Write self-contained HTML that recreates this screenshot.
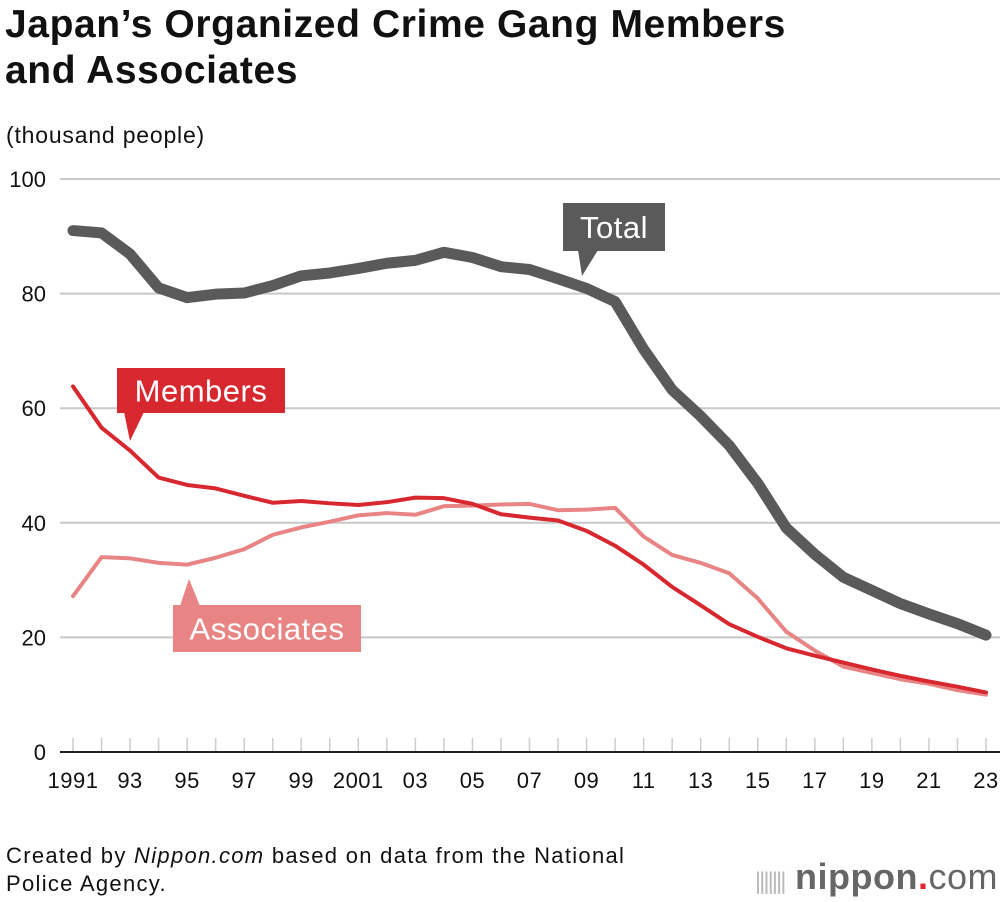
<!DOCTYPE html>
<html><head><meta charset="utf-8"><style>
body{margin:0;background:#fff;font-family:"Liberation Sans",Arial,sans-serif;}
#wrap{position:relative;width:1000px;height:902px;overflow:hidden;}
h1{position:absolute;left:5px;top:2px;margin:0;font-size:39px;line-height:46px;font-weight:bold;color:#111;letter-spacing:0.6px}
.t{position:absolute;color:#111;white-space:nowrap}
</style></head><body>
<div id="wrap">
<h1>Japan’s Organized Crime Gang Members<br>and Associates</h1>
<div class="t" style="left:6px;top:122px;font-size:23px;letter-spacing:0.8px">(thousand people)</div>
<svg id="chart" width="1000" height="902" style="position:absolute;left:0;top:0"></svg>
<div class="t" style="left:6px;top:842px;font-size:22px;line-height:28px;letter-spacing:1.3px">Created by <i>Nippon.com</i> based on data from the National<br>Police Agency.</div>
<div class="t" style="right:2px;top:856px;font-size:36px;line-height:42px;color:#666;font-weight:bold;letter-spacing:0.5px"><span style="font-size:24px;color:#bbb;font-weight:normal;letter-spacing:-2px">|||||||</span> nippon<span style="color:#e0242b">.</span><span style="font-weight:normal">com</span></div>
</div>
<script>
const years=[1991,1992,1993,1994,1995,1996,1997,1998,1999,2000,2001,2002,2003,2004,2005,2006,2007,2008,2009,2010,2011,2012,2013,2014,2015,2016,2017,2018,2019,2020,2021,2022,2023];
const total=[91,90.6,86.9,81,79.3,79.9,80.1,81.4,83.1,83.6,84.4,85.3,85.8,87.2,86.3,84.7,84.2,82.6,80.9,78.6,70.3,63.2,58.6,53.5,46.9,39.1,34.5,30.5,28.2,25.9,24.1,22.4,20.4];
const members=[63.8,56.6,52.6,47.9,46.6,46.0,44.7,43.5,43.8,43.4,43.1,43.6,44.4,44.3,43.3,41.5,40.9,40.4,38.6,36.0,32.7,28.8,25.6,22.3,20.1,18.1,16.8,15.6,14.4,13.3,12.3,11.4,10.4];
const associates=[27.2,34.0,33.8,33.0,32.7,33.9,35.4,37.9,39.2,40.2,41.3,41.7,41.4,42.9,43.0,43.2,43.3,42.2,42.3,42.6,37.6,34.4,33.0,31.2,26.8,21.0,17.7,14.9,13.8,12.7,11.9,10.8,10.0];
const yTicks=[0,20,40,60,80,100];
const xLabels=["1991","93","95","97","99","2001","03","05","07","09","11","13","15","17","19","21","23"];

const NS="http://www.w3.org/2000/svg";
const svg=document.getElementById('chart');
const x=i=>73+i*(986-73)/(years.length-1);
const y=v=>752-v*(752-179)/100;
function el(tag,attrs,parent){const e=document.createElementNS(NS,tag);for(const k in attrs)e.setAttribute(k,attrs[k]);(parent||svg).appendChild(e);return e;}

yTicks.forEach(v=>{
  if(v>0){const g=el('line',{x1:60,x2:1000,y1:y(v),y2:y(v),stroke:'#c8c8c8','stroke-width':2});
  
  }
  const t=el('text',{x:46,y:y(v)+8,'text-anchor':'end','font-size':22,fill:'#111'});
  t.textContent=v;
  
  
});
years.forEach((yr,i)=>{
  const tk=el('line',{x1:x(i),x2:x(i),y1:738,y2:751,stroke:'#ccc','stroke-width':1.5});
  
  
});
xLabels.forEach((lb,j)=>{
  const t=el('text',{x:x(j*2),y:788,'text-anchor':'middle','font-size':22,fill:'#111','letter-spacing':0.5});
  t.textContent=lb;
  
  
});
const ax=el('line',{x1:60,x2:1000,y1:752,y2:752,stroke:'#222','stroke-width':2});



function series(data,color,w,name){
  const p=el('polyline',{points:data.map((v,i)=>x(i)+','+y(v)).join(' '),fill:'none',stroke:color,'stroke-width':w,'stroke-linejoin':'round','stroke-linecap':'round'});
  
  
}
series(associates,'#e88584',4,'associates-line');
series(members,'#d7282f',4,'members-line');
series(total,'#5a5a5a',11,'total-line');

function label(xp,yp,w,h,txt,color,ptr,name){
  const g=el('g',{});
  
  
  el('rect',{x:xp,y:yp,width:w,height:h,fill:color},g);
  el('polygon',{points:ptr,fill:color},g);
  const t=el('text',{x:xp+w/2,y:yp+h/2+11,'text-anchor':'middle','font-size':31,fill:'#fff','letter-spacing':0.5},g);
  t.textContent=txt;
}
label(563,203,102,48,'Total','#5a5a5a','578,250 598,250 582,276','total-label');
label(117,368,168,45,'Members','#d7282f','124,412 144,412 130,441','members-label');
label(173,605,188,47,'Associates','#e88584','180,606 200,606 189,579','associates-label');
</script>
</body></html>
